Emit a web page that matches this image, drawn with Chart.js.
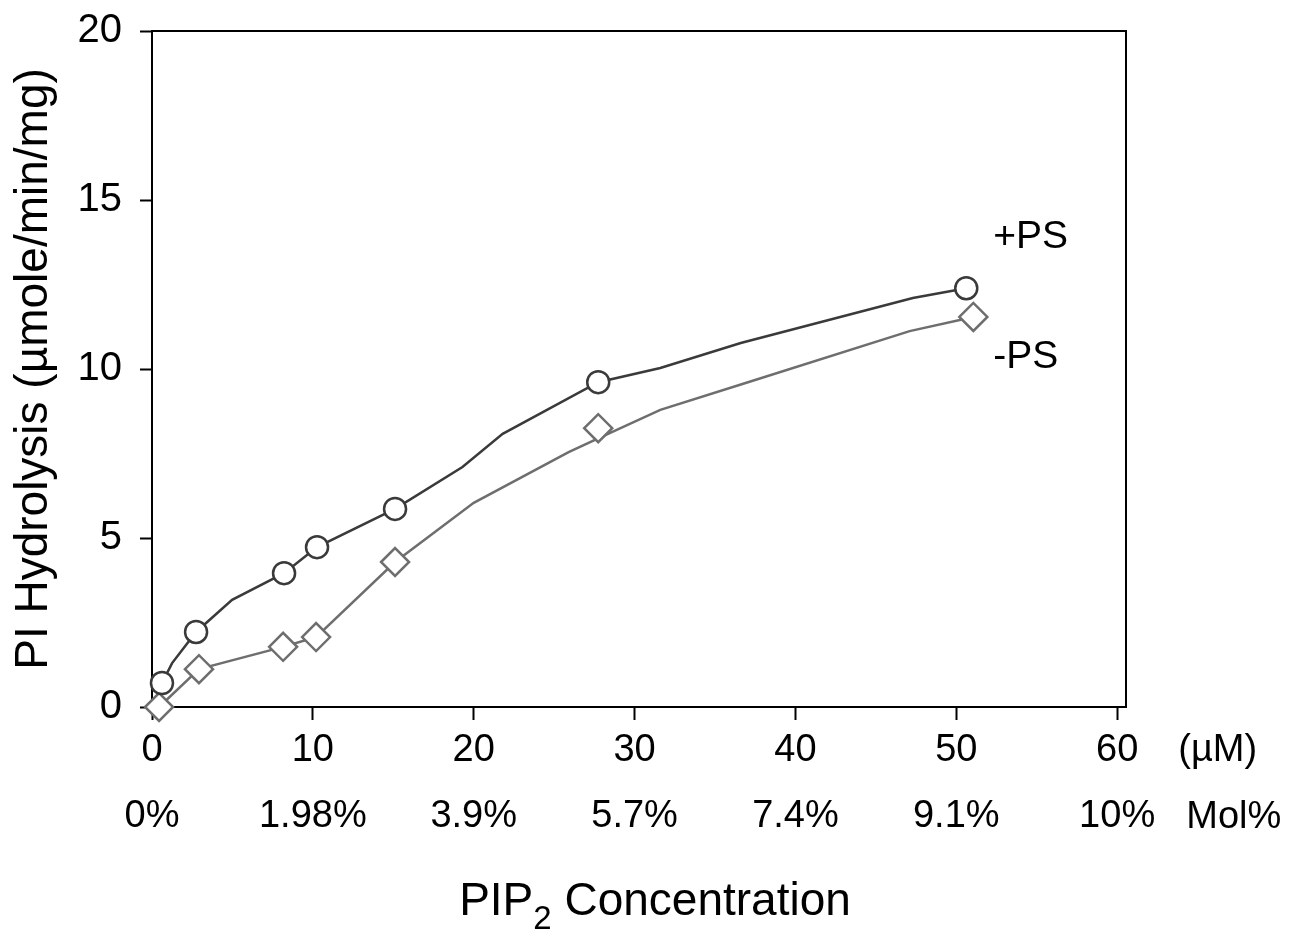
<!DOCTYPE html>
<html>
<head>
<meta charset="utf-8">
<script src="https://cdn.jsdelivr.net/npm/chart.js@4.4.0/dist/chart.umd.min.js"></script>
<style>
  html, body { margin: 0; padding: 0; background: #fff; }
  #wrap { width: 1289px; height: 937px; position: relative; }
</style>
</head>
<body>
<div id="wrap"><canvas id="pipChart"></canvas></div>
<script>
// axis ticks
const xTicks = [0, 10, 20, 30, 40, 50, 60];
const molLabels = ["0%", "1.98%", "3.9%", "5.7%", "7.4%", "9.1%", "10%"];

// measured points (+PS circles, -PS diamonds)
const plusX = [0.62, 2.74, 8.21, 10.26, 15.11, 27.74, 50.62];
const plusY = [0.71, 2.22, 3.96, 4.73, 5.86, 9.61, 12.39];
const minusX = [0.44, 2.92, 8.15, 10.2, 15.11, 27.74, 51.06];
const minusY = [0, 1.12, 1.78, 2.07, 4.29, 8.25, 11.54];

// fitted curves as drawn in the figure
const plusCurveX = [0.62, 1.25, 2.74, 4.98, 8.21, 10.26, 15.11, 19.3, 21.8, 27.74, 31.6, 36.6, 47.3, 50.62];
const plusCurveY = [0.71, 1.3, 2.22, 3.17, 3.96, 4.73, 5.86, 7.1, 8.08, 9.61, 10.03, 10.77, 12.1, 12.39];
const minusCurveX = [0.44, 2.92, 8.15, 10.2, 15.11, 20.0, 25.9, 27.74, 31.6, 37.0, 47.1, 51.06];
const minusCurveY = [0, 1.12, 1.78, 2.07, 4.29, 6.04, 7.54, 7.95, 8.79, 9.6, 11.12, 11.54];

const FONT = "'Liberation Sans', Arial, Helvetica, sans-serif";
const darkLine = "#3a3a3a";
const greyLine = "#6e6e6e";

const toPoints = (xs, ys) => xs.map((x, i) => ({ x: x, y: ys[i] }));

const annotations = {
    id: "annotations",
    afterDraw(chart) {
        const ctx = chart.ctx;
        const area = chart.chartArea;
        const xs = chart.scales.x;
        const ys = chart.scales.y;
        ctx.save();
        // frame on top and right
        ctx.strokeStyle = "#000";
        ctx.lineWidth = 2;
        ctx.beginPath();
        ctx.moveTo(area.left, area.top);
        ctx.lineTo(area.right, area.top);
        ctx.lineTo(area.right, area.bottom);
        ctx.stroke();

        ctx.fillStyle = "#000";
        ctx.textBaseline = "middle";
        ctx.textAlign = "left";
        ctx.font = "39px " + FONT;
        ctx.fillText("+PS", xs.getPixelForValue(52.3), ys.getPixelForValue(13.9));
        ctx.fillText("-PS", xs.getPixelForValue(52.3), ys.getPixelForValue(10.35));

        // unit labels for the two tick rows
        ctx.font = "38px " + FONT;
        ctx.fillText("(\u00b5M)", xs.getPixelForValue(63.8), ys.getPixelForValue(-1.28));
        ctx.fillText("Mol%", xs.getPixelForValue(64.3), ys.getPixelForValue(-3.27));

        // x title with subscript
        const cx = (area.left + area.right) / 2 + 16;
        const ty = ys.getPixelForValue(-5.78);
        const big = "46px " + FONT;
        const small = "33px " + FONT;
        ctx.font = big;
        const w1 = ctx.measureText("PIP").width;
        const w3 = ctx.measureText(" Concentration").width;
        ctx.font = small;
        const w2 = ctx.measureText("2").width;
        const x0 = cx - (w1 + w2 + w3) / 2;
        ctx.font = big;
        ctx.fillText("PIP", x0, ty);
        ctx.font = small;
        ctx.fillText("2", x0 + w1, ty + 18);
        ctx.font = big;
        ctx.fillText(" Concentration", x0 + w1 + w2, ty);
        ctx.restore();
    }
};

new Chart(document.getElementById("pipChart"), {
    data: {
        datasets: [
            {
                type: "scatter",
                label: "+PS",
                data: toPoints(plusX, plusY),
                pointStyle: "circle",
                pointRadius: 11,
                pointBorderWidth: 2.5,
                pointBorderColor: darkLine,
                pointBackgroundColor: "#fff",
                clip: false,
                order: 0
            },
            {
                type: "scatter",
                label: "-PS",
                data: toPoints(minusX, minusY),
                pointStyle: "rectRot",
                pointRadius: 14,
                pointBorderWidth: 2.5,
                pointBorderColor: greyLine,
                pointBackgroundColor: "#fff",
                clip: false,
                order: 0
            },
            {
                type: "line",
                label: "+PS fit",
                data: toPoints(plusCurveX, plusCurveY),
                borderColor: darkLine,
                borderWidth: 2.5,
                pointRadius: 0,
                tension: 0,
                fill: false,
                clip: false,
                order: 1
            },
            {
                type: "line",
                label: "-PS fit",
                data: toPoints(minusCurveX, minusCurveY),
                borderColor: greyLine,
                borderWidth: 2.5,
                pointRadius: 0,
                tension: 0,
                fill: false,
                clip: false,
                order: 1
            }
        ]
    },
    options: {
        responsive: true,
        maintainAspectRatio: false,
        animation: false,
        layout: { padding: { top: 31, right: 163, left: 0, bottom: 0 } },
        plugins: {
            legend: { display: false },
            tooltip: { enabled: false }
        },
        scales: {
            x: {
                type: "linear",
                min: 0,
                max: 60.55,
                afterBuildTicks: (scale) => {
                    scale.ticks = xTicks.map((v) => ({ value: v }));
                },
                afterFit: (scale) => {
                    scale.height = 230;
                    scale.paddingLeft = 0;
                    scale.paddingRight = 0;
                },
                border: { display: true, color: "#000", width: 2 },
                grid: { drawOnChartArea: false, drawTicks: true, tickLength: 13, tickWidth: 2, tickColor: "#000" },
                ticks: {
                    color: "#000",
                    maxRotation: 0,
                    padding: -2,
                    font: { family: FONT, size: 38, lineHeight: 1.72 },
                    callback: (v) => {
                        const i = xTicks.indexOf(v);
                        return i < 0 ? "" : [String(v), molLabels[i]];
                    }
                }
            },
            y: {
                type: "linear",
                min: 0,
                max: 20,
                afterFit: (scale) => {
                    scale.width = 152;
                    scale.paddingTop = 0;
                    scale.paddingBottom = 0;
                },
                border: { display: true, color: "#000", width: 2 },
                grid: { drawOnChartArea: false, drawTicks: true, tickLength: 12, tickWidth: 2, tickColor: "#000" },
                ticks: {
                    color: "#000",
                    stepSize: 5,
                    padding: 18,
                    font: { family: FONT, size: 40 }
                },
                title: {
                    display: true,
                    text: "PI Hydrolysis (\u00b5mole/min/mg)",
                    color: "#000",
                    padding: { top: 7 },
                    font: { family: FONT, size: 46 }
                }
            }
        }
    },
    plugins: [annotations]
});
</script>
</body>
</html>
